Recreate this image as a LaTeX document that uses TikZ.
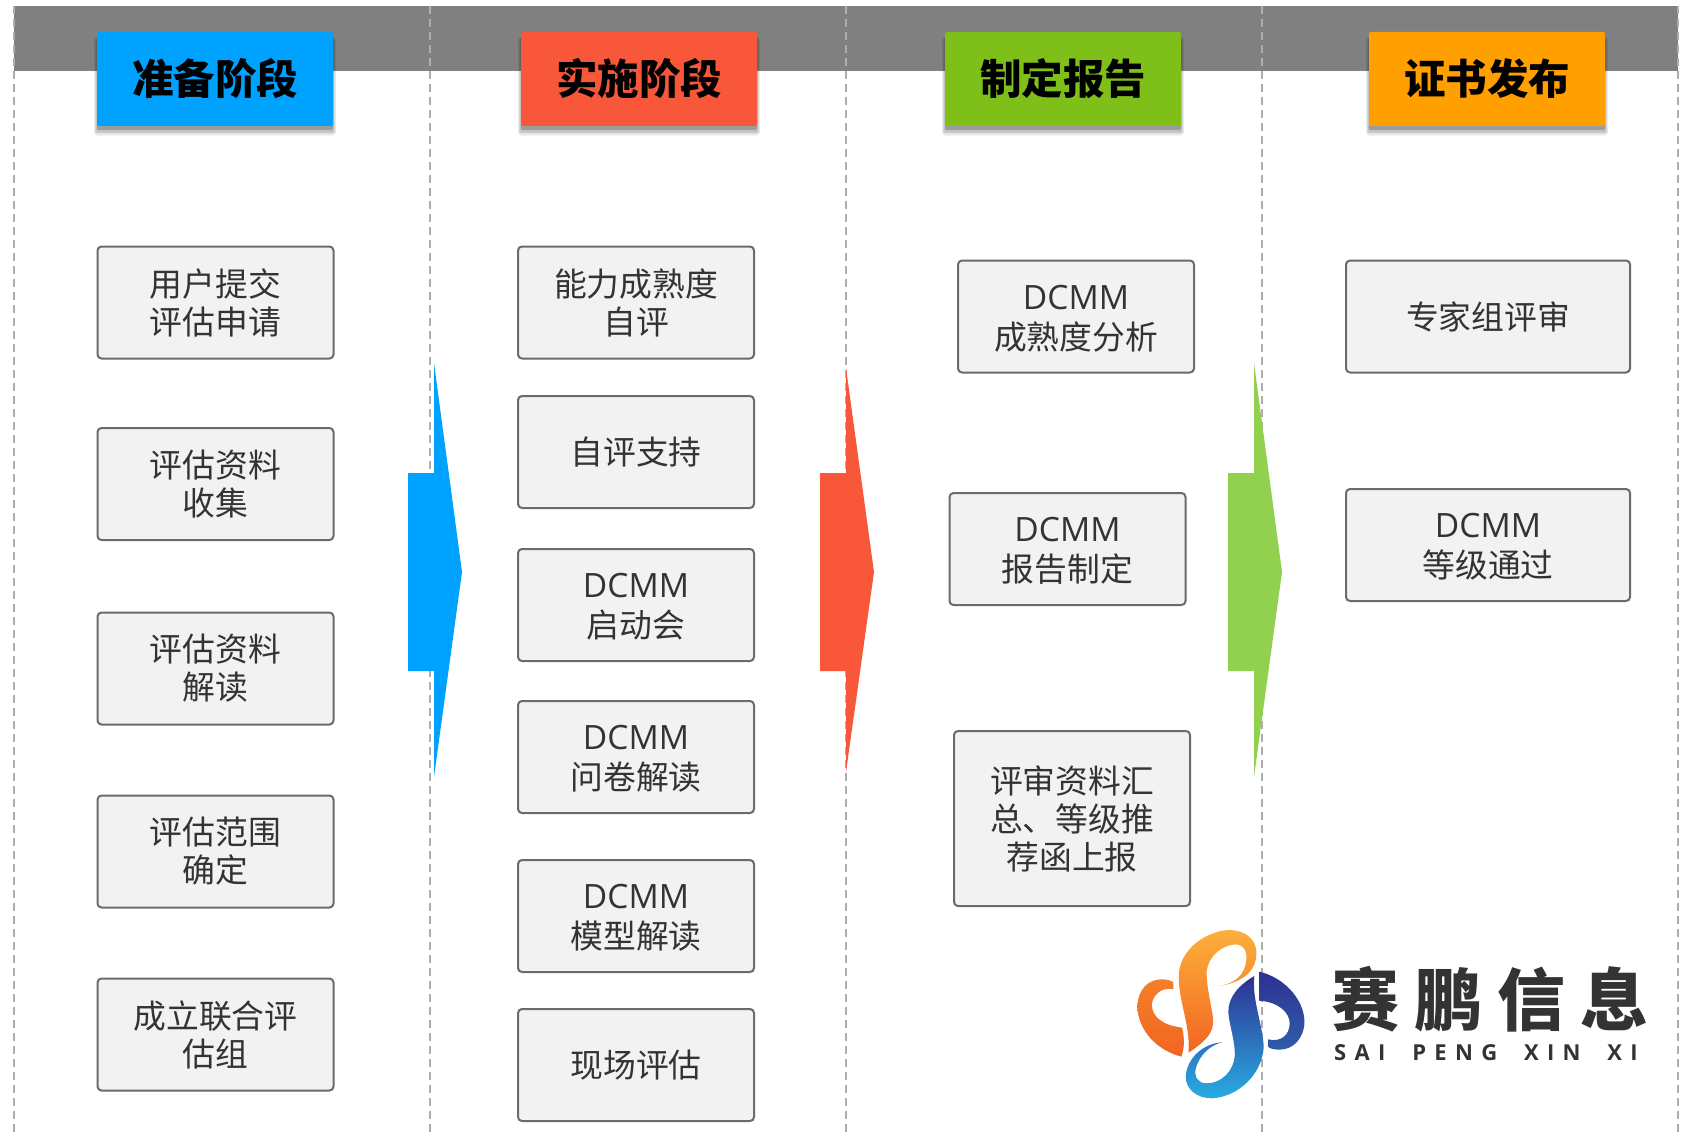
\documentclass[tikz,border=0pt]{standalone}
\usepackage{fontspec}
\setmainfont{Noto Sans CJK SC}
\newfontfamily\latinfont{Open Sans}
\newfontfamily\logofont[LetterSpace=22]{Noto Sans CJK SC Black}
\newfontfamily\pinyinfont[LetterSpace=38,WordSpace=1.9]{Open Sans}
\usetikzlibrary{shadows}
\definecolor{bluehead}{HTML}{00A2FF}
\definecolor{redhead}{HTML}{F9573A}
\definecolor{greenhead}{HTML}{7FBF1A}
\definecolor{orangehead}{HTML}{FF9F00}
\definecolor{greenarrow}{HTML}{92D050}
\definecolor{logoyellow}{HTML}{FBB03B}
\definecolor{logoorange}{HTML}{F26522}
\definecolor{logomid}{HTML}{F57F29}
\definecolor{logonavy}{HTML}{2E3192}
\definecolor{logosky}{HTML}{29ABE2}
\definecolor{logoblue}{HTML}{2F5DAA}
\newcommand{\dcmm}{{\latinfont\fontsize{33.5}{38}\selectfont\rule{0pt}{28pt}DCMM}}
\tikzset{
  headbox/.style={rounded corners=2pt, minimum width=236pt, minimum height=94pt, inner sep=0pt,
    font=\fontsize{41.5}{46}\selectfont\bfseries, text=black,
    general shadow={shadow yshift=-9pt, shadow scale=1.015, fill=black, opacity=0.05},
    general shadow={shadow yshift=-7pt, shadow scale=1.025, fill=black, opacity=0.08},
    general shadow={shadow yshift=-6pt, shadow scale=1.012, fill=black, opacity=0.12},
    general shadow={shadow yshift=-4pt, fill=black, opacity=0.2}},
  stepbox/.style={draw=black!58, line width=2pt, fill=black!5, rounded corners=4pt,
    minimum width=236pt, minimum height=112pt, inner sep=0pt, align=center,
    text=black!80, font=\fontsize{32.8}{38}\selectfont},
}
\begin{document}
\begin{tikzpicture}[x=1pt, y=-1pt]
  \useasboundingbox (0, 0) rectangle (1688, 1134);
  \fill[white] (0, 0) rectangle (1688, 1134);

  \fill[black!50] (14, 6) rectangle (1678, 71);
  \foreach \x in {14, 430, 846, 1262, 1678} {
    \draw[black!32, line width=1.5pt, dash pattern=on 8pt off 5pt] (\x, 6) -- (\x, 1134);
  }

  \node[headbox, fill=bluehead] (prepare) at (215, 79) {准备阶段};
  \node[headbox, fill=redhead] (implement) at (639, 79) {实施阶段};
  \node[headbox, fill=greenhead] (report) at (1063, 79) {制定报告};
  \node[headbox, fill=orangehead] (issue) at (1487, 79) {证书发布};

  \foreach \name/\y/\txt in {apply/302.5/{用户提交\\评估申请},
      collect/484/{评估资料\\收集},
      explain/668.5/{评估资料\\解读},
      scope/851.5/{评估范围\\确定},
      team/1034.5/{成立联合评\\估组}} {
    \node[stepbox] (\name) at (215.5, \y) {\txt};
  }

  \foreach \name/\y/\txt in {selfeval/302.5/{能力成熟度\\自评},
      support/452/{自评支持},
      kickoff/605/{\dcmm\\[2pt]启动会},
      survey/757/{\dcmm\\[2pt]问卷解读},
      model/916/{\dcmm\\[2pt]模型解读},
      onsite/1065/{现场评估}} {
    \node[stepbox] (\name) at (636, \y) {\txt};
  }

  \node[stepbox] (analysis) at (1076, 316.5) {\dcmm\\[2pt]成熟度分析};
  \node[stepbox] (draft) at (1067.5, 549) {\dcmm\\[2pt]报告制定};
  \node[stepbox, minimum height=175pt] (summary) at (1072, 818.5) {评审资料汇\\总、等级推\\荐函上报};

  \node[stepbox, minimum width=284pt] (expert) at (1488, 316.5) {专家组评审};
  \node[stepbox, minimum width=284pt] (pass) at (1488, 545) {\dcmm\\[2pt]等级通过};

  \foreach \x/\c/\d in {408/bluehead/0, 820/redhead/5, 1228/greenarrow/0} {
    \fill[\c] (\x, 473) -- (\x+26, 473) -- (\x+26, 363+\d) -- (\x+54, 572)
      -- (\x+26, 777-\d) -- (\x+26, 671) -- (\x, 671) -- cycle;
  }

  % logo, in crop units
  \begin{scope}[shift={(1120, 900)}, x=0.361pt, y=-0.3333pt]
    \shade[top color=logoyellow, bottom color=logoorange]
      (275, 258) .. controls (350, 245) and (378, 205) .. (378, 160)
      .. controls (378, 115) and (345, 90) .. (300, 90)
      .. controls (235, 95) and (165, 150) .. (163, 225)
      .. controls (160, 300) and (195, 370) .. (190, 458)
      .. controls (235, 425) and (260, 400) .. (258, 360)
      .. controls (255, 320) and (240, 270) .. (240, 215)
      .. controls (245, 165) and (285, 135) .. (320, 133)
      .. controls (345, 135) and (352, 155) .. (350, 180)
      .. controls (345, 225) and (320, 250) .. (275, 258) -- cycle;
    \shade[top color=logomid, bottom color=logoorange]
      (170, 470) .. controls (100, 450) and (50, 390) .. (48, 320)
      .. controls (50, 265) and (80, 238) .. (115, 238)
      .. controls (130, 238) and (145, 242) .. (148, 248)
      -- (148, 268) .. controls (115, 260) and (90, 285) .. (88, 315)
      .. controls (90, 350) and (115, 375) .. (172, 383)
      .. controls (180, 420) and (178, 445) .. (170, 470) -- cycle;
    \shade[top color=logonavy, bottom color=logosky]
      (372, 228) .. controls (330, 255) and (300, 290) .. (300, 335)
      .. controls (302, 375) and (318, 415) .. (318, 465)
      .. controls (315, 515) and (280, 550) .. (240, 550)
      .. controls (215, 550) and (205, 530) .. (210, 505)
      .. controls (220, 465) and (250, 435) .. (283, 427)
      .. controls (230, 430) and (185, 475) .. (182, 530)
      .. controls (182, 570) and (215, 595) .. (255, 595)
      .. controls (330, 590) and (395, 520) .. (398, 440)
      .. controls (395, 370) and (365, 300) .. (372, 228) -- cycle;
    \shade[top color=logonavy, bottom color=logoblue]
      (385, 215) .. controls (450, 230) and (510, 295) .. (511, 365)
      .. controls (510, 415) and (480, 450) .. (440, 449)
      .. controls (425, 449) and (415, 445) .. (410, 440)
      -- (410, 418) .. controls (445, 428) and (470, 405) .. (470, 370)
      .. controls (470, 335) and (435, 305) .. (385, 302) -- cycle;
  \end{scope}

  \node[anchor=west, inner sep=0pt, text=black!80, font=\fontsize{68}{68}\selectfont\logofont] (brand) at (1331, 999) {赛鹏信息};
  \node[anchor=west, inner sep=0pt, text=black!80, font=\fontsize{22}{22}\selectfont\pinyinfont\bfseries] (pinyin) at (1334, 1053) {SAI PENG XIN XI};
\end{tikzpicture}
\end{document}
